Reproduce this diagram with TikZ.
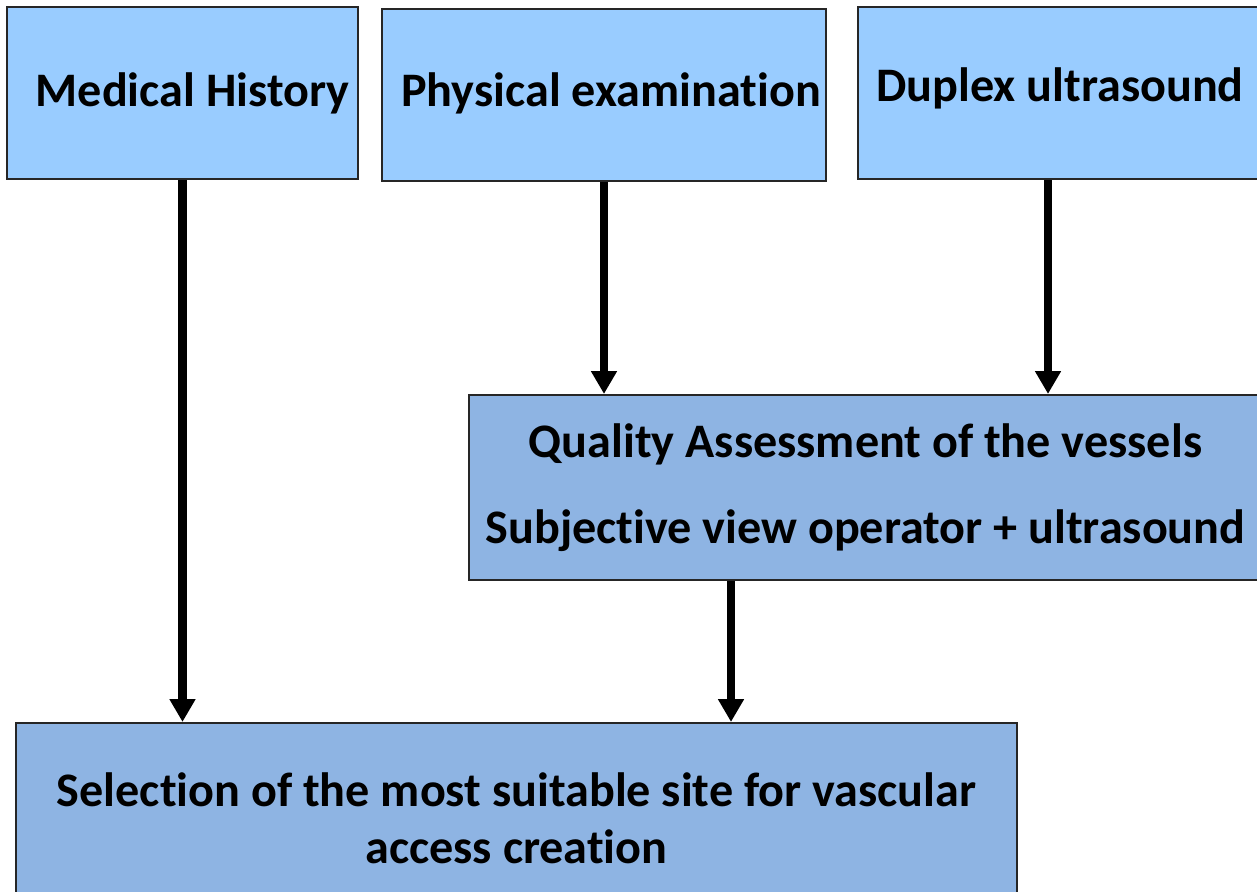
\documentclass[tikz,border=0pt]{standalone}
\usepackage{fontspec}
\setmainfont{Carlito}[Ligatures=NoCommon]
\usetikzlibrary{arrows.meta}
\definecolor{lightblue}{HTML}{99CCFF}
\definecolor{midblue}{HTML}{8EB4E3}
\begin{document}
\begin{tikzpicture}[
    topbox/.style={draw=black!85,line width=0.6pt,fill=lightblue,font=\bfseries\fontsize{13.7}{16.4}\selectfont,align=center,inner sep=0pt},
    lowbox/.style={draw=black!85,line width=0.6pt,fill=midblue,font=\bfseries\fontsize{13.7}{16.4}\selectfont,align=center,inner sep=0pt},
    arr/.style={line width=2.3pt,-{Triangle[width=7pt,length=6.5pt]}}]
\useasboundingbox (0,0) rectangle (12.57,-8.91);
\begin{scope}
\clip (0,0) rectangle (12.57,-8.91);
\node[topbox,minimum width=3.51cm,minimum height=1.72cm] (mh) at (1.825,-0.93) {\hspace{0.2cm}Medical History};
\node[topbox,minimum width=4.44cm,minimum height=1.72cm] (pe) at (6.04,-0.95) {\hspace{0.14cm}\raisebox{0.1cm}{Physical examination}};
\node[topbox,minimum width=4.04cm,minimum height=1.72cm] (du) at (10.60,-0.93) {\raisebox{0.16cm}{Duplex ultrasound}};
\node[lowbox,minimum width=7.93cm,minimum height=1.85cm] (qa) at (8.655,-4.875)
    {Quality Assessment of the vessels\\[8pt] Subjective view operator + ultrasound};
\node[lowbox,minimum width=10.01cm,minimum height=1.77cm] (sel) at (5.165,-8.115)
    {\\[-0.1cm]Selection of the most suitable site for vascular\\ access creation};
\end{scope}
\draw[arr] (mh.south) -- (mh.south |- sel.north);
\draw[arr] (pe.south) -- (pe.south |- qa.north);
\draw[arr] ([xshift=-0.12cm]du.south) -- ([xshift=-0.12cm]du.south |- qa.north);
\draw[arr] ([xshift=-1.345cm]qa.south) -- ([xshift=-1.345cm]qa.south |- sel.north);
\end{tikzpicture}
\end{document}
